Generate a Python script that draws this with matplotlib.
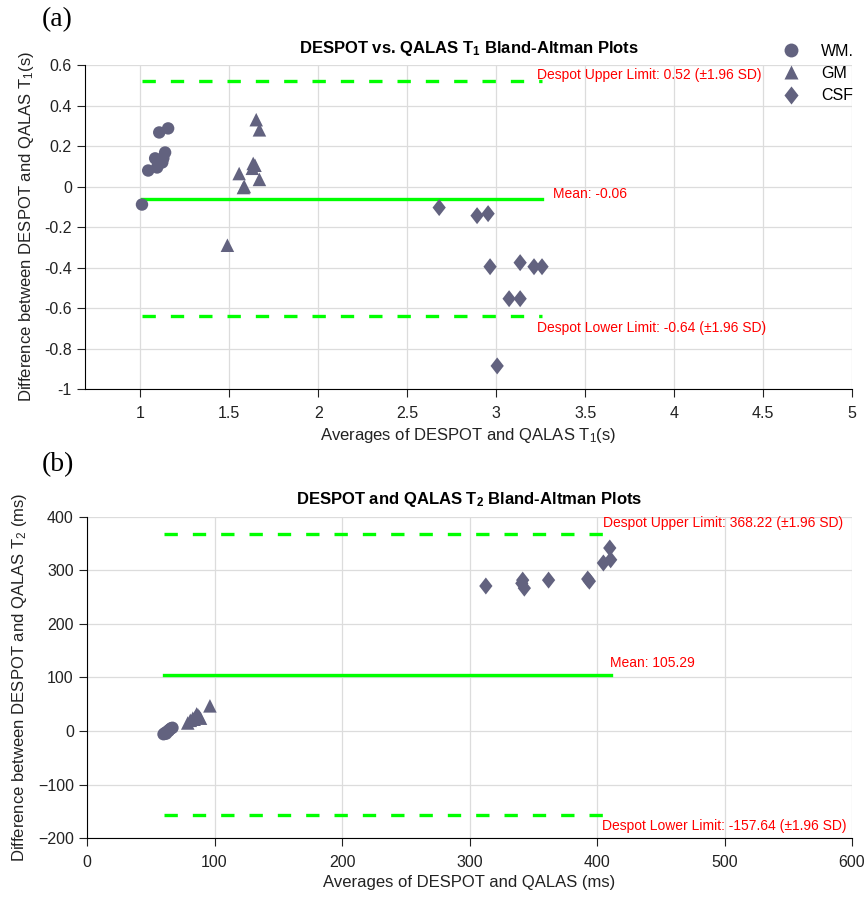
import matplotlib
matplotlib.use('Agg')
import matplotlib.pyplot as plt
from matplotlib.lines import Line2D
from matplotlib.path import Path

plt.rcParams['font.family'] = ['Liberation Sans', 'DejaVu Sans']
plt.rcParams['mathtext.fontset'] = 'custom'
plt.rcParams['mathtext.rm'] = 'Liberation Sans'
plt.rcParams['mathtext.default'] = 'regular'

# (a) T1, seconds
t1_wm_avg = [1.01, 1.045, 1.095, 1.084, 1.124, 1.14, 1.107, 1.157, 1.10, 1.13]
t1_wm_diff = [-0.089, 0.079, 0.094, 0.139, 0.119, 0.168, 0.267, 0.287, 0.12, 0.14]
t1_gm_avg = [1.49, 1.556, 1.58, 1.63, 1.635, 1.652, 1.67, 1.67, 1.645, 1.585]
t1_gm_diff = [-0.29, 0.064, -0.005, 0.09, 0.114, 0.33, 0.28, 0.035, 0.105, 0.0]
t1_csf_avg = [2.68, 2.893, 2.955, 2.966, 3.135, 3.213, 3.258, 3.073, 3.135, 3.006]
t1_csf_diff = [-0.104, -0.144, -0.134, -0.396, -0.376, -0.396, -0.396, -0.554, -0.554, -0.886]
t1_mean, t1_upper, t1_lower = -0.06, 0.52, -0.64

# (b) T2, milliseconds
t2_wm_avg = [60, 61, 62, 63, 64, 65, 66, 67, 62, 64]
t2_wm_diff = [-6, -4, -3, -1, 1, 3, 5, 6, -5, 0]
t2_gm_avg = [79, 81, 83, 85, 87, 88, 89, 86, 84, 96.4]
t2_gm_diff = [15, 20, 24, 27, 30, 27, 24, 32, 22, 47]
t2_csf_avg = [312.8, 341.7, 343, 341, 362, 392.7, 394, 405, 410.7, 410]
t2_csf_diff = [271, 282, 267, 276, 282, 284, 280, 314, 320, 342]
t2_mean, t2_upper, t2_lower = 105.29, 368.22, -157.64

tissues = ['WM.', 'GM', 'CSF']

pt_color = '#62627f'
line_green = '#00ff00'
diamond = Path([(-0.39, 0), (0, 0.5), (0.39, 0), (0, -0.5), (-0.39, 0)],
               [Path.MOVETO, Path.LINETO, Path.LINETO, Path.LINETO, Path.CLOSEPOLY])
markers = ['o', '^', diamond]
sizes = [80, 95, 150]


def style_axes(ax):
    ax.spines['top'].set_visible(False)
    ax.spines['right'].set_visible(False)
    ax.grid(True, color='#dcdcdc', linewidth=0.9)
    ax.set_axisbelow(True)
    ax.tick_params(direction='out', length=5.5, width=0.8, labelsize=11.5,
                   colors='#222222', pad=4)
    ax.tick_params(axis='x', pad=7)


def draw_panel(ax, avgs, diffs, mean, upper, lower):
    for a, d, m, s in zip(avgs, diffs, markers, sizes):
        ax.scatter(a, d, marker=m, s=s, color=pt_color, edgecolors='none', zorder=3)
    all_x = [x for a in avgs for x in a]
    x0, x1 = min(all_x), max(all_x)
    ax.plot([x0, x1], [mean, mean], color=line_green, lw=2.4, zorder=2)
    ax.plot([x0, x1], [upper, upper], color=line_green, lw=2.4, dashes=(4, 4.5), zorder=2)
    ax.plot([x0, x1], [lower, lower], color=line_green, lw=2.4, dashes=(4, 4.5), zorder=2)


fig = plt.figure(figsize=(8.65, 8.98), dpi=100)
ax1 = fig.add_axes([0.0983, 0.5668, 0.8867, 0.3608])
ax2 = fig.add_axes([0.1006, 0.0668, 0.8844, 0.3575])

# panel (a)
style_axes(ax1)
draw_panel(ax1, [t1_wm_avg, t1_gm_avg, t1_csf_avg], [t1_wm_diff, t1_gm_diff, t1_csf_diff],
           t1_mean, t1_upper, t1_lower)
ax1.set_xlim(0.69, 5)
ax1.set_ylim(-1, 0.6)
ax1.set_xticks([1, 1.5, 2, 2.5, 3, 3.5, 4, 4.5, 5])
ax1.set_xticklabels(['1', '1.5', '2', '2.5', '3', '3.5', '4', '4.5', '5'])
ax1.set_yticks([-1, -0.8, -0.6, -0.4, -0.2, 0, 0.2, 0.4, 0.6])
ax1.set_yticklabels(['-1', '-0.8', '-0.6', '-0.4', '-0.2', '0', '0.2', '0.4', '0.6'])
ax1.set_title('DESPOT vs. QALAS T$_1$ Bland-Altman Plots', fontsize=12, fontweight='bold', pad=9)
ax1.set_xlabel('Averages of DESPOT and QALAS T$_1$(s)', fontsize=12, color='#222222', labelpad=3)
ax1.set_ylabel('Difference between DESPOT and QALAS T$_1$(s)', fontsize=12, color='#222222', labelpad=6)
ax1.text(3.23, 0.55, f'Despot Upper Limit: {t1_upper:.2f} (\u00b11.96 SD)', color='red',
         fontsize=10, va='center')
ax1.text(3.32, -0.035, f'Mean: {t1_mean:.2f}', color='red', fontsize=10, va='center')
ax1.text(3.23, -0.70, f'Despot Lower Limit: {t1_lower:.2f} (\u00b11.96 SD)', color='red',
         fontsize=10, va='center')

handles = [Line2D([], [], linestyle='none', marker=m, markersize=ms, color=pt_color,
                  markeredgecolor='none') for m, ms in zip(markers, [10, 10.5, 13])]
ax1.legend(handles, tissues, loc='upper left', bbox_to_anchor=(0.895, 1.09), frameon=False,
           fontsize=11.5, handletextpad=1.1, labelspacing=0.45, borderpad=0, handlelength=1.5)

# panel (b)
style_axes(ax2)
draw_panel(ax2, [t2_wm_avg, t2_gm_avg, t2_csf_avg], [t2_wm_diff, t2_gm_diff, t2_csf_diff],
           t2_mean, t2_upper, t2_lower)
ax2.set_xlim(0, 600)
ax2.set_ylim(-200, 400)
ax2.set_xticks([0, 100, 200, 300, 400, 500, 600])
ax2.set_yticks([-200, -100, 0, 100, 200, 300, 400])
ax2.set_title('DESPOT and QALAS T$_2$ Bland-Altman Plots', fontsize=12, fontweight='bold', pad=9)
ax2.set_xlabel('Averages of DESPOT and QALAS (ms)', fontsize=12, color='#222222', labelpad=3)
ax2.set_ylabel('Difference between DESPOT and QALAS T$_2$ (ms)', fontsize=12, color='#222222', labelpad=6)
ax2.text(404.5, 389, f'Despot Upper Limit: {t2_upper:.2f} (\u00b11.96 SD)', color='red',
         fontsize=10, va='center')
ax2.text(410, 127, f'Mean: {t2_mean:.2f}', color='red', fontsize=10, va='center')
ax2.text(404, -178, f'Despot Lower Limit: {t2_lower:.2f} (\u00b11.96 SD)', color='red',
         fontsize=10, va='center')

fig.text(0.048, 0.978, '(a)', fontsize=20, family='Liberation Serif', va='center')
fig.text(0.048, 0.483, '(b)', fontsize=20, family='Liberation Serif', va='center')

fig.savefig('out.png', dpi=100)
